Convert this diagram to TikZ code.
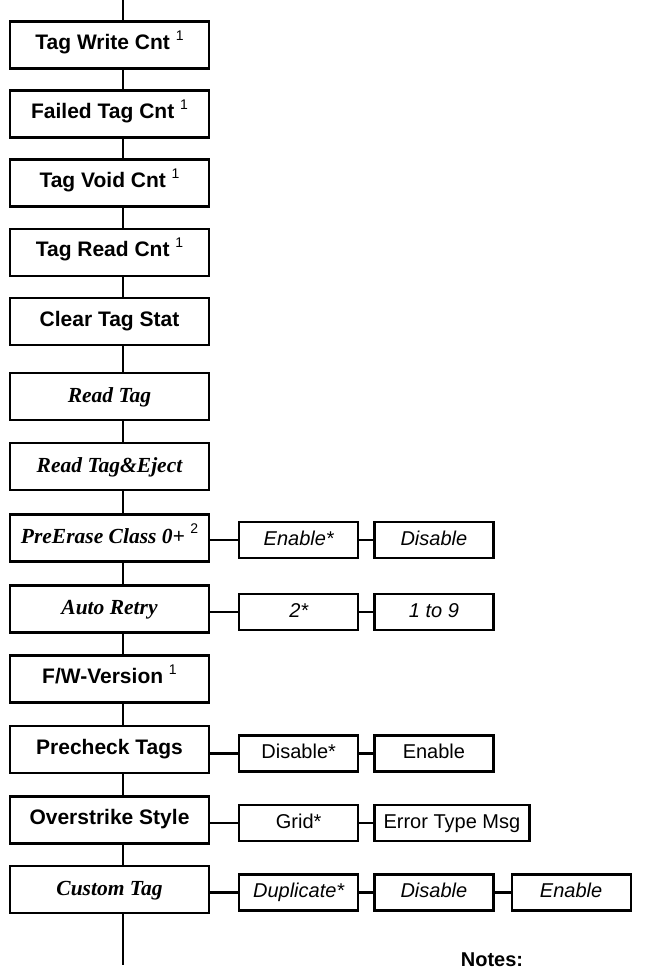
\documentclass[tikz,border=0pt]{standalone}
\usepackage{fontspec}
\setmainfont{Liberation Serif}
\setsansfont{Liberation Sans}
\usetikzlibrary{positioning}
\tikzset{
  menubox/.style={draw, line width=2.2pt, minimum width=199pt, minimum height=47pt, inner sep=0pt, text height=13pt, text depth=4pt, font=\sffamily\bfseries\fontsize{21}{24}\selectfont},
  italbox/.style={menubox, text height=15pt, font=\rmfamily\bfseries\itshape\fontsize{21.5}{24}\selectfont},
  optbox/.style={draw, line width=2.2pt, minimum width=119pt, minimum height=36pt, inner sep=0pt, text height=14pt, text depth=4pt, font=\sffamily\fontsize{20}{24}\selectfont},
  italopt/.style={optbox, font=\sffamily\itshape\fontsize{20}{24}\selectfont},
  wire/.style={line width=2.2pt}
}
\newcommand{\fnmark}[1]{~\raisebox{0.45em}{\normalfont\sffamily\fontsize{14}{14}\selectfont #1}}

\begin{document}
\begin{tikzpicture}[x=1pt, y=-1pt]
\useasboundingbox (0,0) rectangle (662,973);

\coordinate (top) at (123,0);
\coordinate (bot) at (123,965);

\node[menubox] (tw) at (109.5,45) {Tag Write Cnt\fnmark{1}};
\node[menubox] (ft) at (109.5,114) {Failed Tag Cnt\fnmark{1}};
\node[menubox] (tv) at (109.5,183) {Tag Void Cnt\fnmark{1}};
\node[menubox] (tr) at (109.5,252.5) {Tag Read Cnt\fnmark{1}};
\node[menubox] (ct) at (109.5,321.5) {Clear Tag Stat};
\node[italbox] (rt) at (109.5,396.5) {Read Tag};
\node[italbox] (re) at (109.5,466.5) {Read Tag\&Eject};
\node[italbox] (pe) at (109.5,538) {PreErase Class 0+\fnmark{2}};
\node[italbox] (ar) at (109.5,609) {Auto Retry};
\node[menubox] (fw) at (109.5,679) {F/W-Version\fnmark{1}};
\node[menubox] (pc) at (109.5,749.5) {Precheck Tags};
\node[menubox] (os) at (109.5,820) {Overstrike Style};
\node[italbox] (cu) at (109.5,889.5) {Custom Tag};

\draw[wire] (top) -- (tw.north -| top);
\draw[wire] (tw.south -| top) -- (ft.north -| top);
\draw[wire] (ft.south -| top) -- (tv.north -| top);
\draw[wire] (tv.south -| top) -- (tr.north -| top);
\draw[wire] (tr.south -| top) -- (ct.north -| top);
\draw[wire] (ct.south -| top) -- (rt.north -| top);
\draw[wire] (rt.south -| top) -- (re.north -| top);
\draw[wire] (re.south -| top) -- (pe.north -| top);
\draw[wire] (pe.south -| top) -- (ar.north -| top);
\draw[wire] (ar.south -| top) -- (fw.north -| top);
\draw[wire] (fw.south -| top) -- (pc.north -| top);
\draw[wire] (pc.south -| top) -- (os.north -| top);
\draw[wire] (os.south -| top) -- (cu.north -| top);
\draw[wire] (cu.south -| top) -- (bot);

\node[italopt, right=28pt of pe, yshift=-2pt] (pe1) {Enable*};
\node[italopt, right=14pt of pe1] (pe2) {Disable};
\draw[wire] (pe.east |- pe1.west) -- (pe1.west);
\draw[wire] (pe1) -- (pe2);

\node[italopt, right=28pt of ar, yshift=-3pt] (ar1) {2*};
\node[italopt, right=14pt of ar1] (ar2) {1 to 9};
\draw[wire] (ar.east |- ar1.west) -- (ar1.west);
\draw[wire] (ar1) -- (ar2);

\node[optbox, right=28pt of pc, yshift=-4pt] (pc1) {Disable*};
\node[optbox, right=14pt of pc1] (pc2) {Enable};
\draw[wire] (pc.east |- pc1.west) -- (pc1.west);
\draw[wire] (pc1) -- (pc2);

\node[optbox, right=28pt of os, yshift=-3pt] (os1) {Grid*};
\node[optbox, minimum width=155pt, right=14pt of os1] (os2) {Error Type Msg};
\draw[wire] (os.east |- os1.west) -- (os1.west);
\draw[wire] (os1) -- (os2);

\node[italopt, right=28pt of cu, yshift=-3pt] (cu1) {Duplicate*};
\node[italopt, right=14pt of cu1] (cu2) {Disable};
\node[italopt, right=16pt of cu2] (cu3) {Enable};
\draw[wire] (cu.east |- cu1.west) -- (cu1.west);
\draw[wire] (cu1) -- (cu2);
\draw[wire] (cu2) -- (cu3);

\node[anchor=base, font=\sffamily\bfseries\fontsize{20}{24}\selectfont] (notes) at (492,966) {Notes:};
\end{tikzpicture}
\end{document}
